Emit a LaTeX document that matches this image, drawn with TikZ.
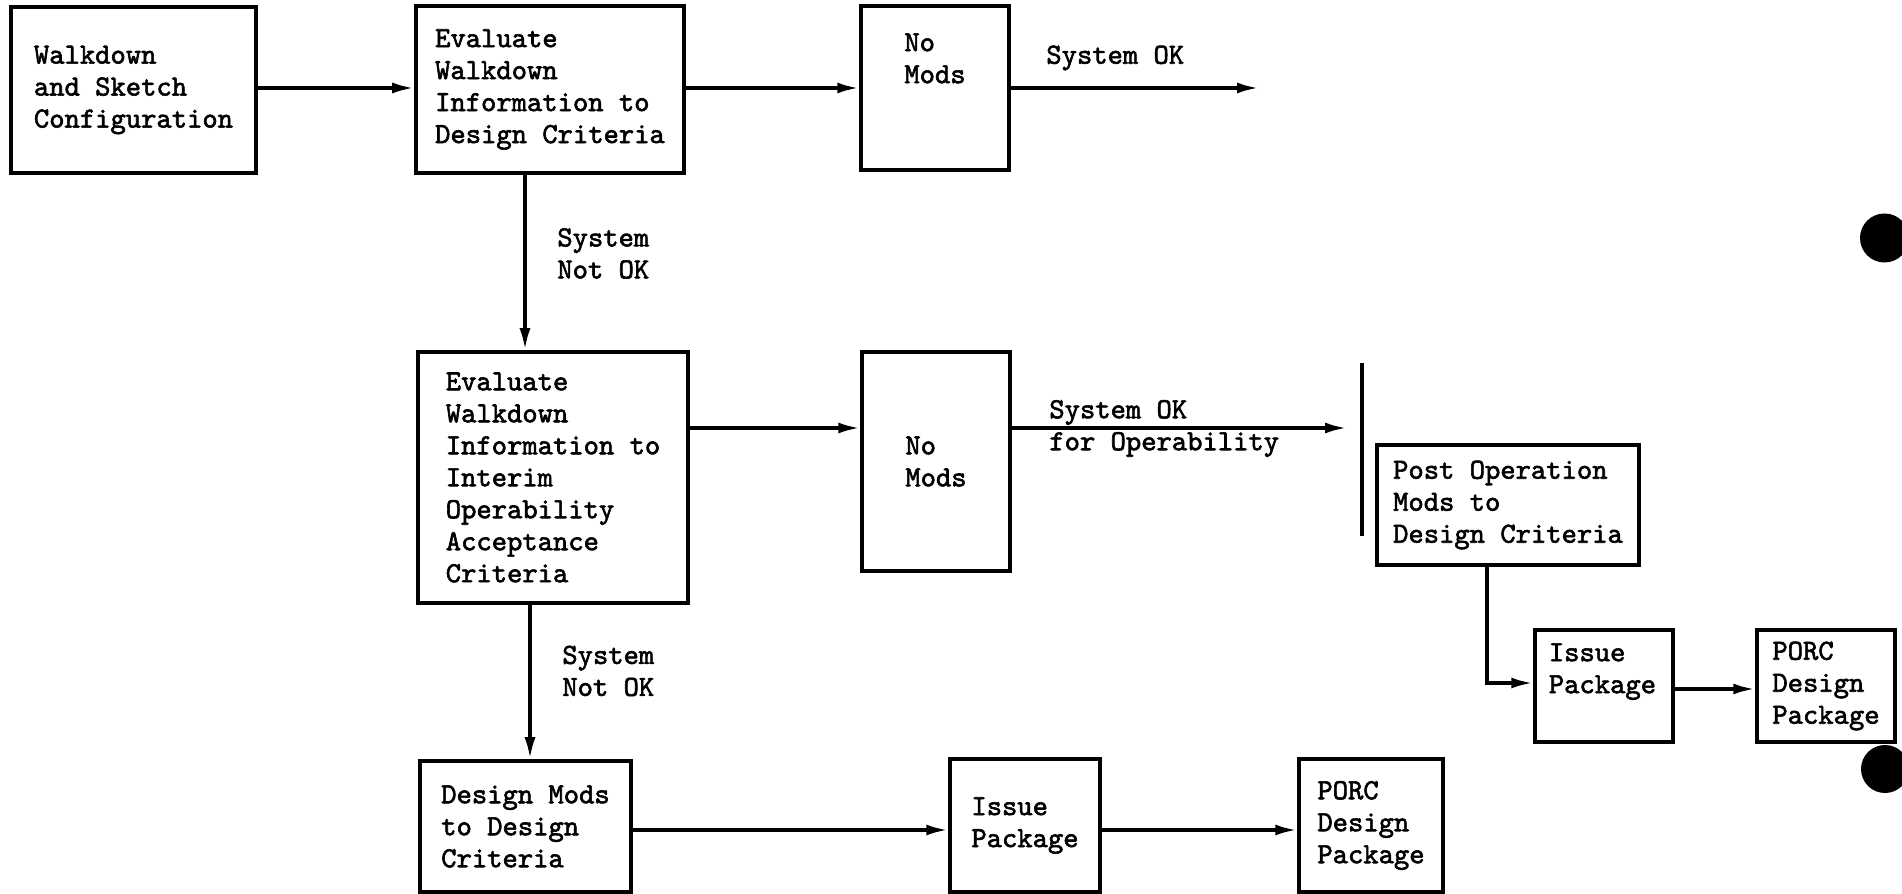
\documentclass[tikz,border=0pt]{standalone}
\usepackage{fontspec}
\newfontfamily\twfont{lmmono10-regular.otf}[FakeBold=2]
\usetikzlibrary{arrows.meta}

\begin{document}
\begin{tikzpicture}[x=1cm,y=1cm,>={Latex[length=0.44cm,width=0.22cm]},
  every node/.style={font=\twfont\bfseries\fontsize{16.6}{18.2}\selectfont},
  box/.style={draw,line width=2pt,align=left,inner sep=0pt},
  lbl/.style={align=left,inner sep=0pt},
  flow/.style={->,line width=2pt}]
  \useasboundingbox (0,0) rectangle (38.04,-17.88);
  % top row
  \node[box,minimum width=4.90cm,minimum height=3.32cm] (walk) at (2.67,-1.80) {Walkdown\\and Sketch\\Configuration};
  \node[box,minimum width=5.36cm,minimum height=3.34cm] (evaldesign) at (11.00,-1.79) {Evaluate\\Walkdown\\Information to\\Design Criteria};
  \node[box,minimum width=2.96cm,minimum height=3.28cm] (nomodsA) at (18.70,-1.76) {};
  \node[lbl,anchor=north west] (nomodsAtxt) at (18.08,-0.66) {No\\Mods};
  % middle row
  \node[box,minimum width=5.40cm,minimum height=5.02cm] (evalinterim) at (11.06,-9.55) {Evaluate\\Walkdown\\Information to\\Interim\\Operability\\Acceptance\\Criteria};
  \node[box,minimum width=2.96cm,minimum height=4.38cm] (nomodsB) at (18.72,-9.23) {No\\Mods};
  \node[box,minimum width=5.24cm,minimum height=2.40cm] (postop) at (30.16,-10.10) {Post Operation\\Mods to\\Design Criteria};
  \node[box,minimum width=2.76cm,minimum height=2.24cm] (issueA) at (32.08,-13.72) {};
  \node[lbl,anchor=north west] (issueAtxt) at (30.97,-12.86) {Issue\\Package};
  \node[box,minimum width=2.76cm,minimum height=2.24cm] (porcA) at (36.52,-13.72) {PORC\\Design\\Package};
  % bottom row
  \node[box,minimum width=4.22cm,minimum height=2.62cm] (designmods) at (10.51,-16.53) {Design Mods\\to Design\\Criteria};
  \node[box,minimum width=3.00cm,minimum height=2.66cm] (issueB) at (20.50,-16.51) {Issue\\Package};
  \node[box,minimum width=2.88cm,minimum height=2.66cm] (porcB) at (27.42,-16.51) {PORC\\Design\\Package};

  % arrow rows and columns
  \coordinate (rowa) at (0,-1.76);
  \coordinate (rowb) at (0,-8.56);
  \coordinate (rowc) at (0,-16.60);
  \coordinate (rowd) at (0,-13.66);
  \coordinate (rowe) at (0,-13.78);
  \coordinate (downa) at (10.50,0);
  \coordinate (downb) at (10.60,0);
  \coordinate (downc) at (29.74,0);
  \coordinate (okendA) at (25.18,-1.76);
  \coordinate (okendB) at (26.94,-8.56);

  \draw[flow] (walk.east |- rowa) -- (evaldesign.west |- rowa);
  \draw[flow] (evaldesign.east |- rowa) -- (nomodsA.west |- rowa);
  \draw[flow] (nomodsA.east |- rowa) -- (okendA);
  \draw[flow] (evaldesign.south -| downa) -- (evalinterim.north -| downa);
  \draw[flow] (evalinterim.east |- rowb) -- (nomodsB.west |- rowb);
  \draw[flow] (nomodsB.east |- rowb) -- (okendB);
  \draw[line width=2.3pt] (27.24,-7.26) -- (27.24,-10.72);
  \draw[flow] (evalinterim.south -| downb) -- (designmods.north -| downb);
  \draw[flow] (designmods.east |- rowc) -- (issueB.west |- rowc);
  \draw[flow] (issueB.east |- rowc) -- (porcB.west |- rowc);
  \draw[flow] (postop.south -| downc) |- (issueA.west |- rowd);
  \draw[flow] (issueA.east |- rowe) -- (porcA.west |- rowe);

  % labels
  \node[lbl,anchor=west] (okA) at (20.92,-1.16) {System OK};
  \node[lbl,anchor=west] (notokA) at (11.14,-5.07) {System\\Not OK};
  \node[lbl,anchor=west] (okB) at (20.98,-8.57) {System OK\\for Operability};
  \node[lbl,anchor=west] (notokB) at (11.24,-13.42) {System\\Not OK};

  % punch holes
  \fill (37.69,-4.76) circle (0.49);
  \fill (37.70,-15.38) circle (0.48);
\end{tikzpicture}
\end{document}
